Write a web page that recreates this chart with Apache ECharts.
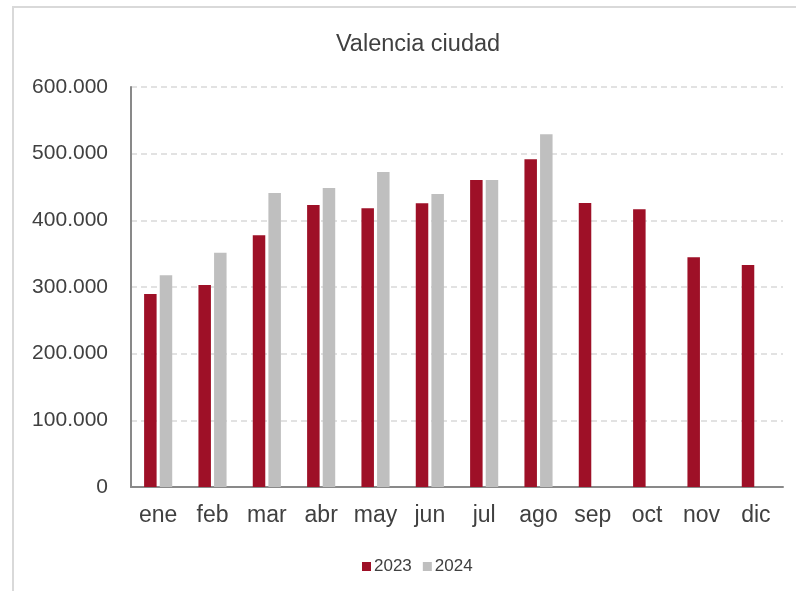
<!DOCTYPE html>
<html lang="es">
<head>
    <meta charset="utf-8">
    <title>Valencia ciudad</title>
    <script src="https://cdn.jsdelivr.net/npm/echarts@6/dist/echarts.min.js"></script>
    <style>
        html, body { margin: 0; padding: 0; background: #fff; overflow: hidden; }
        #frame { position: absolute; left: 12px; top: 6px; width: 800px; height: 600px;
                 border: 2px solid #d9d9d9; box-sizing: border-box; }
        #main { position: absolute; left: 0; top: 0; width: 796px; height: 591px; }
    </style>
</head>
<body>
<div id="frame"></div>
<div id="main"></div>
<script type="text/javascript">
    // meses y valores
    var meses = ['ene', 'feb', 'mar', 'abr', 'may', 'jun', 'jul', 'ago', 'sep', 'oct', 'nov', 'dic'];
    var datos2023 = [289500, 303000, 377500, 423000, 418000, 425500, 460500, 491500, 426000, 416500, 344500, 333000];
    var datos2024 = [317500, 351500, 441000, 448500, 472500, 439500, 460500, 529000, null, null, null, null];
    var ticksY = [0, 100000, 200000, 300000, 400000, 500000, 600000];

    function fmt(v) {
        return v === 0 ? '0' : String(v).replace(/\B(?=(\d{3})+(?!\d))/g, '.');
    }

    var myChart = echarts.init(document.getElementById('main'));
    myChart.setOption({
        backgroundColor: 'transparent',
        textStyle: { fontFamily: 'Liberation Sans, Arial, sans-serif' },
        title: {
            text: 'Valencia ciudad',
            left: 413,
            textAlign: 'center',
            top: 28,
            textStyle: { color: '#404040', fontSize: 23.5, fontWeight: 'normal' }
        },
        legend: {
            data: ['2023', '2024'],
            left: 357,
            top: 553,
            itemWidth: 9,
            itemHeight: 9,
            itemGap: 11,
            icon: 'rect',
            textStyle: { color: '#404040', fontSize: 17, padding: [0, 0, 0, -2] }
        },
        grid: { left: 131, right: 13, top: 87, bottom: 104, containLabel: false },
        xAxis: {
            type: 'category',
            data: meses,
            axisLine: { lineStyle: { color: '#898989', width: 2 } },
            axisTick: { show: false },
            axisLabel: { color: '#404040', fontSize: 23, margin: 17, interval: 0 }
        },
        yAxis: {
            type: 'value',
            min: ticksY[0],
            max: ticksY[ticksY.length - 1],
            interval: 100000,
            axisLine: { show: true, lineStyle: { color: '#898989', width: 2 } },
            axisTick: { show: false },
            splitLine: { lineStyle: { color: '#d9d9d9', type: [6, 4], width: 1.5 } },
            axisLabel: { color: '#404040', fontSize: 21, margin: 23, formatter: fmt }
        },
        series: [
            {
                name: '2023',
                type: 'bar',
                data: datos2023,
                barWidth: 12.5,
                barGap: '25%',
                itemStyle: { color: '#9e1027' }
            },
            {
                name: '2024',
                type: 'bar',
                data: datos2024,
                barWidth: 12.5,
                itemStyle: { color: '#bfbfbf' }
            }
        ]
    });
</script>
</body>
</html>
